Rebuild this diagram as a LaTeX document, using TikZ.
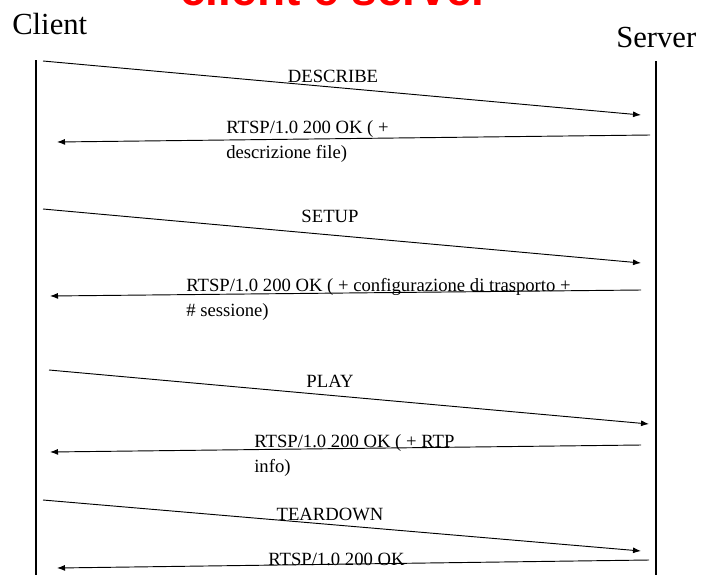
\documentclass[tikz,border=0pt]{standalone}
\usepackage{fontspec}
\setmainfont{Liberation Serif}
\newfontfamily\titlefont{Liberation Sans}
\usetikzlibrary{arrows.meta,positioning,calc}

\begin{document}
\begin{tikzpicture}[x=0.75pt,y=-0.75pt,
    lifeline/.style={line width=0.9pt},
    msg/.style={line width=0.7pt,-{Latex[length=6pt,width=4.5pt]}},
    lbl/.style={font=\fontsize{14}{18.75}\selectfont,inner sep=0pt,align=left}]
    \useasboundingbox (0,0) rectangle (706,575);
    \clip (0,0) rectangle (706,575);

    % title, cut by the top edge
    \node[anchor=base,inner sep=0pt,text=red,font=\titlefont\bfseries\fontsize{34.5}{40}\selectfont] (title) at (335,5) {client e server};

    \node[anchor=base west,inner sep=0pt,font=\fontsize{23}{28}\selectfont] (client) at (12,34) {Client};
    \node[anchor=base west,inner sep=0pt,font=\fontsize{23}{28}\selectfont] (server) at (616,47) {Server};

    % lifelines
    \coordinate (ctop) at (36,60);
    \coordinate (cbot) at (36,575);
    \coordinate (stop) at (656,61);
    \coordinate (sbot) at (656,575);
    \draw[lifeline] (ctop) -- (cbot);
    \draw[lifeline] (stop) -- (sbot);

    % requests and replies
    \foreach \n/\xa/\ya/\xb/\yb in {1/43/61/641/115, 2/650/135/57/142,
                                   3/43/209/641/263, 4/641/290/50/296,
                                   5/49/370/649/424, 6/641/445/50/452,
                                   7/43/500/641/551, 8/649/560/57/568} {
        \coordinate (a\n) at (\xa,\ya);
        \coordinate (b\n) at (\xb,\yb);
        \draw[msg] (a\n) -- (b\n);
    }

    \node[lbl,anchor=base] (describe) at (333,82) {DESCRIBE};
    \node[lbl,anchor=north west] (ok1) at (226,120) {RTSP/1.0 200 OK ( +\\descrizione file)};
    \node[lbl,anchor=base] (setup) at (330,222) {SETUP};
    \node[lbl,anchor=north west] (ok2) at (186,278) {RTSP/1.0 200 OK ( + configurazione di trasporto +\\\# sessione)};
    \node[lbl,anchor=base] (play) at (330,387) {PLAY};
    \node[lbl,anchor=north west] (ok3) at (254,434) {RTSP/1.0 200 OK ( + RTP\\info)};
    \node[lbl,anchor=base] (teardown) at (330,520) {TEARDOWN};
    \node[lbl,anchor=base west] (ok4) at (268,565) {RTSP/1.0 200 OK};
\end{tikzpicture}
\end{document}
